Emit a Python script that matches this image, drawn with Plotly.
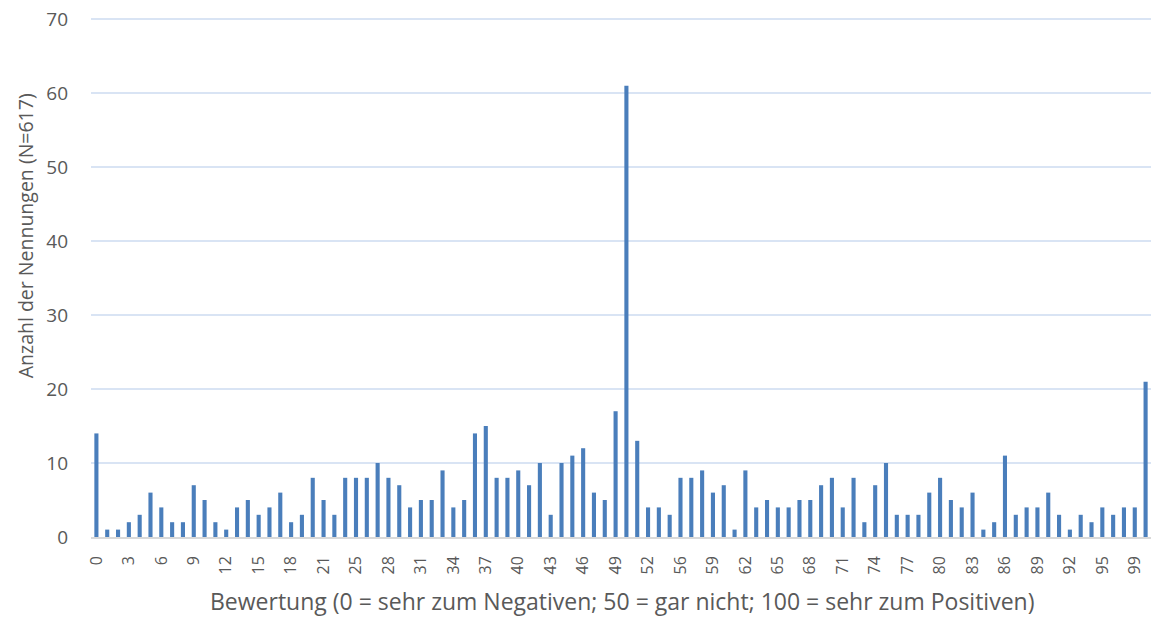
import plotly.graph_objects as go

# Category labels (rating values present in the data)
categories = ([str(i) for i in range(0, 22)] + ["22", "23"] + [str(i) for i in range(25, 53)]
              + ["53", "54"] + [str(i) for i in range(56, 96)] + ["96", "97"] + ["99", "100"])

counts = [14, 1, 1, 2, 3, 6, 4, 2, 2, 7, 5, 2, 1, 4, 5, 3, 4, 6, 2, 3, 8, 5, 3, 8, 8,
          8, 10, 8, 7, 4, 5, 5, 9, 4, 5, 14, 15, 8, 8, 9, 7, 10, 3, 10, 11, 12, 6, 5, 17,
          61,
          13, 4, 4, 3, 8, 8, 9, 6, 7, 1, 9, 4, 5, 4, 4, 5, 5, 7, 8, 4, 8, 2, 7,
          10, 3, 3, 3, 6, 8, 5, 4, 6, 1, 2, 11, 3, 4, 4, 6, 3, 1, 3, 2, 4, 3, 4, 4, 21]

tick_labels = categories[::3][:33]

y_ticks = [0, 10, 20, 30, 40, 50, 60, 70]

x_title = "Bewertung (0 = sehr zum Negativen; 50 = gar nicht; 100 = sehr zum Positiven)"
y_title = "Anzahl der Nennungen (N=617)"

FONT = "Open Sans"
TXT = "#595959"

fig = go.Figure(go.Bar(x=categories, y=counts, marker=dict(color="#4a7ebb", line=dict(width=0)),
                       hoverinfo="x+y"))

fig.update_layout(
    width=1151, height=617,
    margin=dict(l=91, r=0, t=18, b=80, autoexpand=False),
    paper_bgcolor="white", plot_bgcolor="white",
    bargap=0.62,
    showlegend=False,
    font=dict(family=FONT, color=TXT, size=17),
    annotations=[
        dict(text=x_title, xref="paper", yref="paper", x=0.5005, y=-0.123,
             xanchor="center", yanchor="middle", showarrow=False,
             font=dict(size=23, color=TXT, family=FONT)),
        dict(text=y_title, xref="paper", yref="paper", x=-0.0615, y=0.581,
             xanchor="center", yanchor="middle", showarrow=False, textangle=-90,
             font=dict(size=19.5, color=TXT, family=FONT)),
    ],
)
fig.update_xaxes(
    type="category", categoryorder="array", categoryarray=categories,
    tickmode="array", tickvals=tick_labels, ticktext=tick_labels,
    tickangle=-90, tickfont=dict(size=16, color=TXT, family=FONT),
    showgrid=False, showline=True, linecolor="#d9d9d9", linewidth=1.5,
    ticks="", range=[-0.5, len(categories) - 0.5], automargin=False,
    ticklabelstandoff=11,
)
fig.update_yaxes(
    range=[0, 70.15], tickvals=y_ticks,
    tickfont=dict(size=19, color=TXT, family=FONT),
    showgrid=True, gridcolor="#d9e4f4", gridwidth=1.6, zeroline=False,
    showline=False, ticks="", ticklabelstandoff=22, automargin=False,
)

# remove the browser's default 8px body margin so the figure fills the window exactly
fig.write_html("out.html",
               config={"displayModeBar": False},
               post_script="document.body.style.margin='0';document.body.style.overflow='hidden';")
